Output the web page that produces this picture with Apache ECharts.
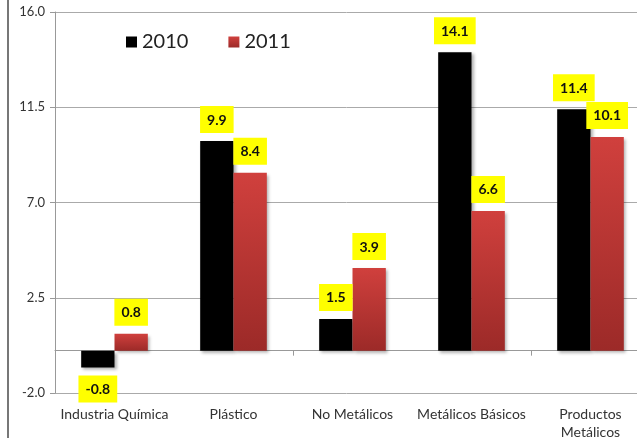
<!DOCTYPE html>
<html>
<head>
<meta charset="utf-8">
<script src="https://cdn.jsdelivr.net/npm/echarts@6/dist/echarts.min.js"></script>
<style>html,body{margin:0;padding:0;background:#fff}#c{width:637px;height:438px}</style>
</head>
<body>
<div id="c"></div>
<script>
const categories = ['Industria Química', 'Plástico', 'No Metálicos', 'Metálicos Básicos', 'Productos\nMetálicos'];
const values2010 = [-0.8, 9.9, 1.5, 14.1, 11.4];
const values2011 = [0.8, 8.4, 3.9, 6.6, 10.1];
const seriesNames = ['2010', '2011'];
const yTicks = { min: -2, max: 16, interval: 4.5 };

const labelStyle = {
  show: true, position: 'top', distance: 8,
  backgroundColor: '#ffff00', color: '#111', fontWeight: 'bold',
  fontFamily: 'Lato, sans-serif', fontSize: 14, padding: [7, 7, 6, 7],
  formatter: p => p.value.toFixed(1)
};
function toData(arr) {
  return arr.map(v => v < 0 ? { value: v, label: { position: 'bottom' } } : v);
}
const chart = echarts.init(document.getElementById('c'), null, { renderer: 'canvas' });
chart.setOption({
  animation: false,
  backgroundColor: '#fff',
  graphic: [{ type: 'line', shape: { x1: 8, y1: 0, x2: 8, y2: 438 }, style: { stroke: '#777', lineWidth: 2 } }],
  legend: {
    data: seriesNames, left: 121, top: 27, itemWidth: 11, itemHeight: 11, itemGap: 40,
    textStyle: { fontSize: 20, color: '#222', fontFamily: 'Lato, sans-serif' },
    icon: 'rect'
  },
  grid: { left: 55, right: -13, top: 12, bottom: 45, containLabel: false, outerBoundsMode: 'none' },
  xAxis: [{
    type: 'category', data: categories, position: 'bottom',
    axisLine: { show: false, onZero: false }, axisTick: { show: false },
    axisLabel: { color: '#333', fontSize: 14, margin: 12, fontFamily: 'Lato, sans-serif', lineHeight: 18, interval: 0 }
  }, {
    type: 'category', data: categories, position: 'top',
    axisLine: { show: true, onZero: true, lineStyle: { color: '#999' } },
    axisTick: { show: true, inside: true, length: 5, lineStyle: { color: '#999' } },
    axisLabel: { show: false }
  }],
  yAxis: {
    type: 'value', min: yTicks.min, max: yTicks.max, interval: yTicks.interval,
    axisLine: { show: true, lineStyle: { color: '#999' } },
    axisTick: { show: true, length: 5, lineStyle: { color: '#999' } },
    splitLine: { lineStyle: { color: '#aaa' } },
    axisLabel: { color: '#333', fontSize: 13, margin: 10, fontFamily: 'Lato, sans-serif', formatter: v => v.toFixed(1) }
  },
  series: [{
    name: seriesNames[0], type: 'bar', data: toData(values2010), barGap: '0%', barCategoryGap: '44%',
    itemStyle: { color: '#000', shadowBlur: 3, shadowOffsetX: 2, shadowOffsetY: 2, shadowColor: 'rgba(0,0,0,0.3)' },
    label: labelStyle
  }, {
    name: seriesNames[1], type: 'bar', data: toData(values2011),
    itemStyle: {
      color: new echarts.graphic.LinearGradient(0, 0, 0, 1, [{ offset: 0, color: '#d0403d' }, { offset: 1, color: '#9c2a28' }]),
      shadowBlur: 3, shadowOffsetX: 2, shadowOffsetY: 2, shadowColor: 'rgba(0,0,0,0.3)'
    },
    label: labelStyle
  }]
});
</script>
</body>
</html>
